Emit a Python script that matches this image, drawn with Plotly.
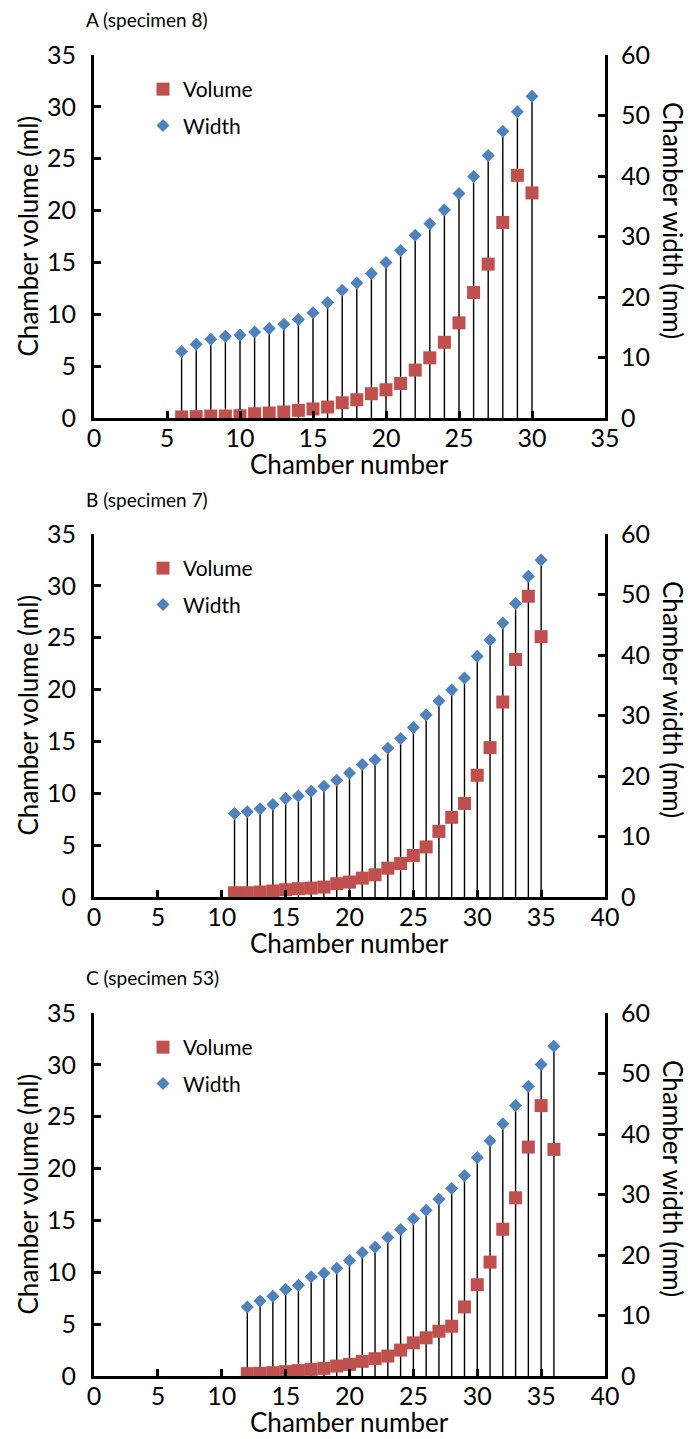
import plotly.graph_objects as go

W, H = 688, 1439

# ---------------- data ----------------
chambers_a = list(range(6, 31))
volume_a = [0.10, 0.13, 0.19, 0.19, 0.22, 0.41, 0.48, 0.58, 0.74, 0.87, 1.06, 1.47, 1.76,
            2.34, 2.72, 3.33, 4.62, 5.80, 7.30, 9.17, 12.1, 14.84, 18.85, 23.4, 21.7]
width_a = [11.0, 12.2, 13.0, 13.5, 13.7, 14.2, 14.8, 15.5, 16.3, 17.4, 19.1, 21.1, 22.3,
           23.9, 25.7, 27.7, 30.2, 32.1, 34.4, 37.1, 39.9, 43.4, 47.4, 50.6, 53.2]

chambers_b = list(range(11, 36))
volume_b = [0.41, 0.41, 0.48, 0.58, 0.70, 0.80, 0.86, 0.96, 1.28, 1.44, 1.82, 2.14, 2.78,
            3.23, 4.00, 4.83, 6.33, 7.68, 9.02, 11.74, 14.4, 18.8, 22.9, 29.0, 25.1]
width_b = [13.8, 14.1, 14.6, 15.3, 16.3, 16.7, 17.5, 18.3, 19.3, 20.5, 21.9, 22.7, 24.6,
           26.2, 28.0, 30.1, 32.4, 34.2, 36.2, 39.8, 42.5, 45.3, 48.5, 53.0, 55.7]

chambers_c = list(range(12, 37))
volume_c = [0.23, 0.26, 0.32, 0.42, 0.52, 0.64, 0.74, 0.96, 1.12, 1.41, 1.67, 1.92, 2.50,
            3.20, 3.68, 4.32, 4.80, 6.66, 8.80, 10.98, 14.15, 17.18, 22.07, 26.07, 21.85]
width_c = [11.4, 12.4, 13.2, 14.3, 15.0, 16.4, 17.0, 17.8, 19.1, 20.4, 21.3, 22.9, 24.2,
           26.0, 27.4, 29.2, 31.0, 33.1, 36.1, 38.9, 41.7, 44.7, 47.9, 51.5, 54.5]

panel_titles = ["A (specimen 8)", "B (specimen 7)", "C (specimen 53)"]
x_max = [35, 40, 40]
vol_max, vol_step = 35, 5
wid_max, wid_step = 60, 10
x_step = 5

panels = [(chambers_a, volume_a, width_a),
          (chambers_b, volume_b, width_b),
          (chambers_c, volume_c, width_c)]

# ---------------- layout geometry (pixels) ----------------
PLOT_L, PLOT_R = 94, 605
PLOT_TOPS = [55, 534, 1013]
PLOT_H = 363

RED = "#C0504D"
BLUE = "#4F81BD"
FONT = "Lato"
TICK_SIZE = 25
TITLE_SIZE = 26


def px(x):
    return x / W


def py(y):
    return 1 - y / H


fig = go.Figure()
layout = dict(
    width=W, height=H, template="none",
    margin=dict(l=0, r=0, t=0, b=0),
    paper_bgcolor="white", plot_bgcolor="rgba(0,0,0,0)",
    font=dict(family=FONT, color="black", size=TICK_SIZE),
    annotations=[],
)

axis_common = dict(
    showgrid=False, zeroline=False, showline=True, linecolor="black", linewidth=3,
    ticks="inside", ticklen=7, tickwidth=3, tickcolor="black",
    tickfont=dict(family=FONT, size=TICK_SIZE, color="black"), automargin=False,
)

for i, (ch, vol, wid) in enumerate(panels):
    n = i + 1
    xa = "x" if n == 1 else f"x{n}"
    ya_w = f"y{2 * n - 1}" if n > 1 else "y"
    ya_v = f"y{2 * n}"
    leg = "legend" if n == 1 else f"legend{n}"
    top = PLOT_TOPS[i]
    bot = top + PLOT_H
    ydom = [py(bot), py(top)]

    layout[f"xaxis{'' if n == 1 else n}"] = dict(
        axis_common, domain=[px(PLOT_L), px(PLOT_R)], anchor=ya_w,
        range=[0, x_max[i]], dtick=x_step, tick0=0, ticklabelstandoff=-4,
    )
    layout[f"yaxis{'' if n == 1 else 2 * n - 1}"] = dict(
        axis_common, domain=ydom, anchor=xa, side="right",
        range=[0, wid_max], dtick=wid_step, tick0=0, ticklabelstandoff=8,
    )
    layout[f"yaxis{2 * n}"] = dict(
        axis_common, domain=ydom, anchor=xa, side="left", overlaying=ya_w,
        range=[0, vol_max], dtick=vol_step, tick0=0, ticklabelstandoff=10,
    )

    # drop lines from width points to the axis
    dx, dy = [], []
    for c, w in zip(ch, wid):
        dx += [c, c, None]
        dy += [0, w, None]
    fig.add_trace(go.Scatter(x=dx, y=dy, mode="lines", xaxis=xa, yaxis=ya_w,
                             line=dict(color="black", width=1.4), showlegend=False,
                             hoverinfo="skip"))
    fig.add_trace(go.Scatter(x=ch, y=wid, mode="markers", name="Width", xaxis=xa, yaxis=ya_w,
                             marker=dict(symbol="diamond", size=10, color=BLUE, line=dict(width=0)),
                             legend=leg, legendgroup=f"w{n}", legendrank=2))
    fig.add_trace(go.Scatter(x=ch, y=vol, mode="markers", name="Volume", xaxis=xa, yaxis=ya_v,
                             marker=dict(symbol="square", size=13, color=RED, line=dict(width=0)),
                             legend=leg, legendgroup=f"v{n}", legendrank=1))

    layout[leg] = dict(
        x=px(143), y=py(top + 14), xanchor="left", yanchor="top",
        bgcolor="rgba(0,0,0,0)", borderwidth=0, font=dict(family=FONT, size=21, color="black"),
        traceorder="grouped", tracegroupgap=6, itemwidth=30,
    )

    # panel title
    layout["annotations"].append(dict(
        text=panel_titles[i], xref="paper", yref="paper", x=px(84), y=py(top - 35),
        xanchor="left", yanchor="middle", showarrow=False,
        font=dict(family=FONT, size=19, color="black")))
    # left axis title
    layout["annotations"].append(dict(
        text="Chamber volume (ml)", xref="paper", yref="paper", x=px(27), y=py(top + PLOT_H / 2),
        xanchor="center", yanchor="middle", textangle=-90, showarrow=False,
        font=dict(family=FONT, size=TITLE_SIZE, color="black")))
    # right axis title
    layout["annotations"].append(dict(
        text="Chamber width (mm)", xref="paper", yref="paper", x=px(673), y=py(top + 165),
        xanchor="center", yanchor="middle", textangle=90, showarrow=False,
        font=dict(family=FONT, size=TITLE_SIZE, color="black")))
    # x axis title
    layout["annotations"].append(dict(
        text="Chamber number", xref="paper", yref="paper", x=px((PLOT_L + PLOT_R) / 2),
        y=py(bot + 46), xanchor="center", yanchor="middle", showarrow=False,
        font=dict(family=FONT, size=TITLE_SIZE, color="black")))

fig.update_layout(**layout)
fig.write_html("out.html", config={"displayModeBar": False},
               post_script="document.body.style.margin='0px';")
